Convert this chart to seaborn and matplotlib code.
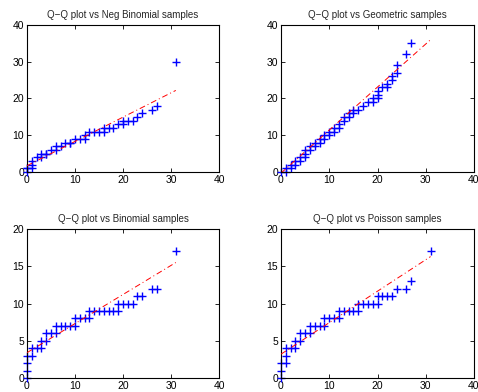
import matplotlib
matplotlib.use("Agg")
import matplotlib.pyplot as plt
import seaborn as sns

# sample quantiles (x) vs theoretical sample quantiles (y)
x_negbin = [0, 0, 0, 1, 1, 1, 2, 3, 3, 4, 4, 5, 6, 6, 7, 8, 9, 9, 10, 11, 12, 12, 13, 14, 15, 16, 16,
            17, 18, 19, 20, 20, 21, 22, 23, 24, 26, 27, 31]
y_negbin = [0, 1, 1, 1, 2, 3, 4, 4, 5, 5, 5, 6, 6, 7, 7, 8, 8, 8, 9, 9, 9, 10, 11, 11, 11, 11, 12,
            12, 12, 13, 13, 14, 14, 14, 15, 16, 17, 18, 30]

x_geom = [0, 1, 1, 2, 2, 3, 3, 4, 4, 5, 5, 5, 6, 6, 7, 7, 8, 8, 9, 9, 10, 10, 11, 11, 12, 12, 13, 13,
          14, 14, 15, 15, 16, 17, 18, 19, 19, 20, 20, 20, 21, 22, 22, 23, 23, 24, 24, 26, 27, 31]
y_geom = [0, 0, 1, 1, 2, 2, 3, 3, 4, 4, 5, 6, 6, 7, 7, 8, 8, 9, 9, 10, 10, 11, 11, 12, 12, 13, 14, 15,
          15, 16, 16, 17, 17, 18, 19, 19, 20, 20, 21, 22, 23, 23, 24, 25, 26, 27, 29, 32, 35, 45]

x_binom = [0, 0, 0, 0, 1, 1, 2, 3, 3, 4, 4, 5, 6, 6, 7, 8, 9, 10, 10, 11, 12, 13, 13, 14, 15, 16, 17,
           18, 19, 19, 20, 21, 22, 23, 24, 26, 27, 31]
y_binom = [0, 1, 2, 3, 3, 4, 4, 4, 5, 5, 6, 6, 6, 7, 7, 7, 7, 7, 8, 8, 8, 8, 9, 9, 9, 9, 9,
           9, 9, 10, 10, 10, 10, 11, 11, 12, 12, 17]

x_pois = [0, 0, 0, 1, 1, 1, 2, 3, 3, 4, 4, 5, 6, 6, 7, 8, 9, 9, 10, 11, 12, 12, 13, 14, 15, 16, 16,
          17, 18, 19, 20, 20, 21, 22, 23, 24, 26, 27, 31]
y_pois = [0, 1, 2, 2, 3, 4, 4, 4, 5, 5, 6, 6, 6, 7, 7, 7, 7, 8, 8, 8, 8, 9, 9, 9, 9, 9, 10,
          10, 10, 10, 10, 11, 11, 11, 11, 12, 12, 13, 17]

# reference line ends at x = 0 and x = 31
line_x = [0, 31]
line_negbin = [1.7, 22.2]
line_geom = [-0.3, 36.0]
line_binom = [3.4, 15.5]
line_pois = [3.2, 16.3]

titles = ["Q\u2212Q plot vs Neg Binomial samples", "Q\u2212Q plot vs Geometric samples",
          "Q\u2212Q plot vs Binomial samples", "Q\u2212Q plot vs Poisson samples"]

sns.set_style("white")
plt.rcParams["font.family"] = ["Liberation Sans", "DejaVu Sans"]
plt.rcParams["font.size"] = 7

W, H = 478, 392
fig = plt.figure(figsize=(W / 100, H / 100), dpi=100)

# axes boxes in pixels: left, top, width, height
boxes = [(27, 25, 192, 147), (281, 25, 193, 147), (27, 229, 192, 149), (281, 229, 193, 149)]
panels = [
    (x_negbin, y_negbin, line_negbin, 40, [0, 10, 20, 30, 40]),
    (x_geom, y_geom, line_geom, 40, [0, 10, 20, 30, 40]),
    (x_binom, y_binom, line_binom, 20, [0, 5, 10, 15, 20]),
    (x_pois, y_pois, line_pois, 20, [0, 5, 10, 15, 20]),
]

for (l, t, w, h), title, (xs, ys, ly, ymax, yt) in zip(boxes, titles, panels):
    ax = fig.add_axes([l / W, 1 - (t + h) / H, w / W, h / H])
    # markers on the axis edge are drawn whole, points beyond the limits are left out
    keep = [(a, b) for a, b in zip(xs, ys) if b <= ymax]
    sns.scatterplot(x=[k[0] for k in keep], y=[k[1] for k in keep], ax=ax, marker="+",
                    color="blue", s=40, linewidth=1.0, zorder=2, clip_on=False)
    sns.lineplot(x=line_x, y=ly, ax=ax, color="red", lw=0.7,
                 linestyle=(0, (6, 3, 1, 3)), zorder=3)
    ax.set_xlim(0, 40)
    ax.set_ylim(0, ymax)
    ax.set_xticks([0, 10, 20, 30, 40])
    ax.set_yticks(yt)
    ax.tick_params(direction="in", bottom=True, left=True, top=True, right=True,
                   length=3, width=0.6, labelsize=7.5, pad=2, colors="black")
    for sp in ax.spines.values():
        sp.set_color("black")
        sp.set_linewidth(0.8)
    ax.set_title(title, fontsize=7, pad=5)

fig.savefig("out.png", dpi=100)
